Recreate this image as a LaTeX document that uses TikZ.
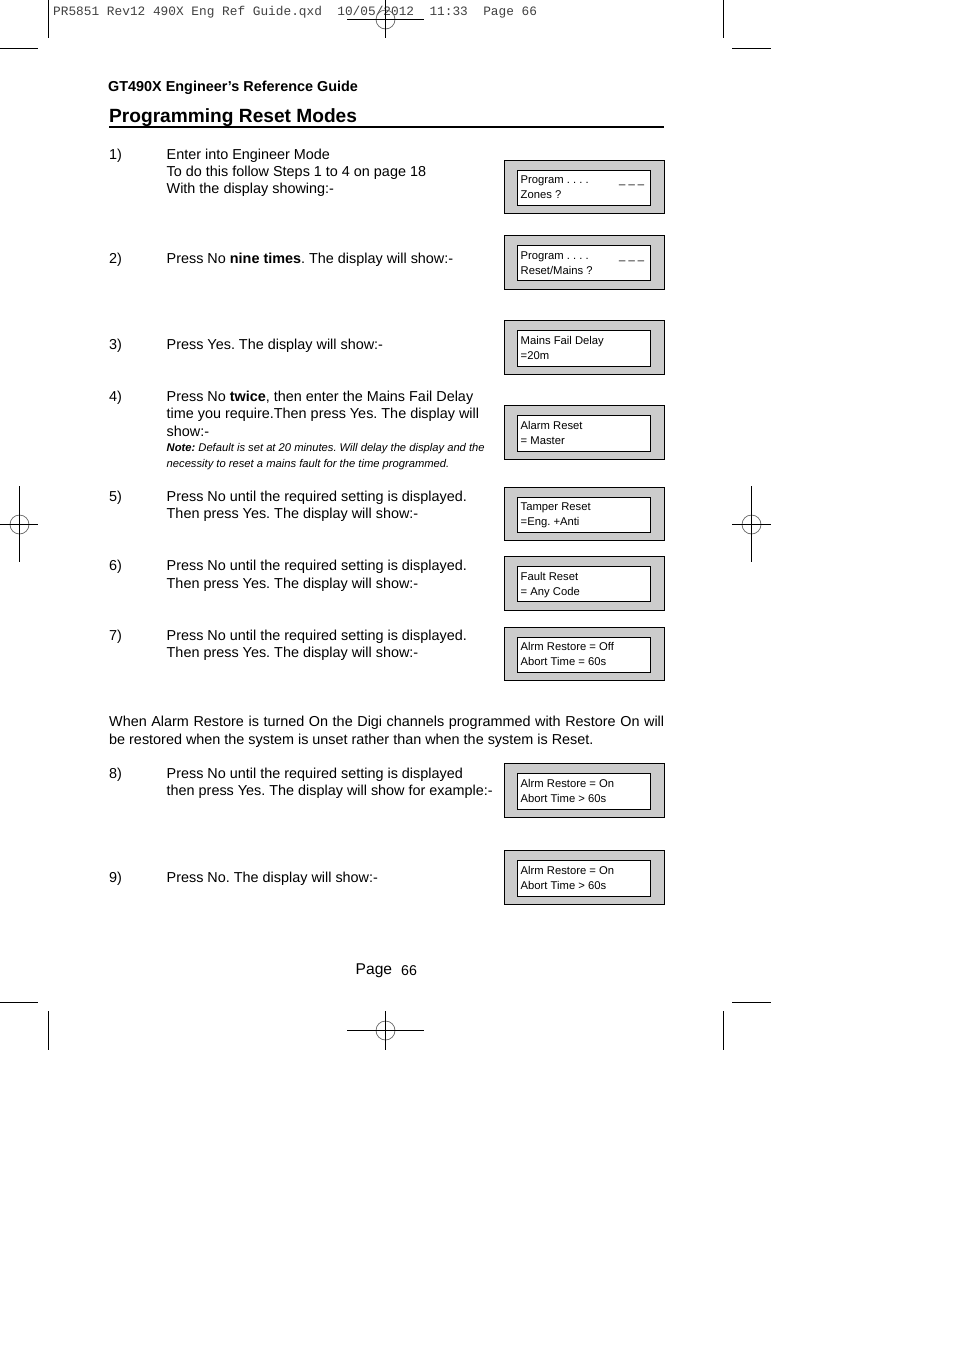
\documentclass[tikz,border=0pt]{standalone}
\usepackage{fontspec}
\setmainfont{Liberation Sans}
\setmonofont{Liberation Mono}
\frenchspacing

\tikzset{
  txt/.style={anchor=base west, inner sep=0pt, font=\fontsize{14.4}{17}\selectfont},
  note/.style={anchor=base west, inner sep=0pt, font=\fontsize{11.2}{13}\selectfont\itshape},
  lcdtxt/.style={anchor=base west, inner sep=0pt, font=\fontsize{11.25}{13}\selectfont},
  lcdframe/.style={draw=black, fill=black!20, line width=1pt, minimum width=160pt, minimum height=54pt, inner sep=0pt},
  lcdface/.style={draw=black, fill=white, line width=1pt, minimum width=133pt, minimum height=36pt, inner sep=0pt},
  trim/.style={line width=1pt},
  ring/.style={draw=black!60, line width=0.7pt}
}

\begin{document}
\begin{tikzpicture}[x=1pt, y=-1pt]
\useasboundingbox (0,0) rectangle (954,1350);

% slug line
\node (slug) at (53,15) [anchor=base west, inner sep=0pt, font=\fontsize{12.8}{15}\selectfont\ttfamily, text=black!75] {PR5851 Rev12 490X Eng Ref Guide.qxd\ \ 10/05/2012\ \ 11:33\ \ Page 66};

% crop marks
\draw [trim] (48.5,0) -- (48.5,38);
\draw [trim] (0,48.5) -- (38,48.5);
\draw [trim] (723.5,0) -- (723.5,38);
\draw [trim] (732,48.5) -- (771,48.5);
\draw [trim] (0,1002.5) -- (38,1002.5);
\draw [trim] (48.5,1011) -- (48.5,1050);
\draw [trim] (723.5,1011) -- (723.5,1050);
\draw [trim] (732,1002.5) -- (771,1002.5);

% registration marks
\draw [ring] (385.5,19.5) circle (9.5);
\draw [trim] (385.5,0) -- (385.5,38);
\draw [trim] (347,19.5) -- (424,19.5);
\draw [ring] (19.5,524.5) circle (9.5);
\draw [trim] (19.5,486) -- (19.5,562);
\draw [trim] (0,524.5) -- (38,524.5);
\draw [ring] (751.5,524.5) circle (9.5);
\draw [trim] (751.5,486) -- (751.5,562);
\draw [trim] (732,524.5) -- (771,524.5);
\draw [ring] (385.5,1030.5) circle (9.5);
\draw [trim] (385.5,1011) -- (385.5,1050);
\draw [trim] (347,1030.5) -- (424,1030.5);

% headings
\node (guide) at (108,91) [txt] {\textbf{GT490X Engineer’s Reference Guide}};
\node (title) at (109,122) [anchor=base west, inner sep=0pt, font=\fontsize{19.14}{23}\selectfont\bfseries] {Programming Reset Modes};
\draw [line width=2pt] (109,127) -- (664,127);

% steps
\node (n1) at (109,159) [txt] {1)};
\node (s1a) at (166.5,159) [txt] {Enter into Engineer Mode};
\node (s1b) at (166.5,176) [txt] {To do this follow Steps 1 to 4 on page 18};
\node (s1c) at (166.5,193) [txt] {With the display showing:-};

\node (n2) at (109,263) [txt] {2)};
\node (s2a) at (166.5,263) [txt] {Press No \textbf{nine times}. The display will show:-};

\node (n3) at (109,349) [txt] {3)};
\node (s3a) at (166.5,349) [txt] {Press Yes. The display will show:-};

\node (n4) at (109,401) [txt] {4)};
\node (s4a) at (166.5,401) [txt] {Press No \textbf{twice}, then enter the Mains Fail Delay};
\node (s4b) at (166.5,418) [txt] {time you require.Then press Yes. The display will};
\node (s4c) at (166.5,436) [txt] {show:-};
\node (s4d) at (166.5,451) [note] {\textbf{Note:} Default is set at 20 minutes. Will delay the display and the};
\node (s4e) at (166.5,467) [note] {necessity to reset a mains fault for the time programmed.};

\node (n5) at (109,501) [txt] {5)};
\node (s5a) at (166.5,501) [txt] {Press No until the required setting is displayed.};
\node (s5b) at (166.5,518) [txt] {Then press Yes. The display will show:-};

\node (n6) at (109,570) [txt] {6)};
\node (s6a) at (166.5,570) [txt] {Press No until the required setting is displayed.};
\node (s6b) at (166.5,588) [txt] {Then press Yes. The display will show:-};

\node (n7) at (109,640) [txt] {7)};
\node (s7a) at (166.5,640) [txt] {Press No until the required setting is displayed.};
\node (s7b) at (166.5,657) [txt] {Then press Yes. The display will show:-};

\node (para1) at (109,726) [txt] {\makebox[555pt][s]{When Alarm Restore is turned On the Digi channels programmed with Restore On will}};
\node (para2) at (109,744) [txt] {be restored when the system is unset rather than when the system is Reset.};

\node (n8) at (109,778) [txt] {8)};
\node (s8a) at (166.5,778) [txt] {Press No until the required setting is displayed};
\node (s8b) at (166.5,795) [txt] {then press Yes. The display will show for example:-};

\node (n9) at (109,882) [txt] {9)};
\node (s9a) at (166.5,882) [txt] {Press No. The display will show:-};

\node (page) at (355.5,974) [txt, font=\fontsize{15.6}{18}\selectfont] {Page};
\node (pageno) at (401,975) [anchor=base west, inner sep=0pt, font=\fontsize{14.2}{17}\selectfont] {66};

% displays
\node (f1) at (584.5,187) [lcdframe, minimum height=53pt] {};
\node (d1) at (584,188) [lcdface, minimum height=35pt] {};
\node (d1a) at (520.5,183) [lcdtxt] {Program . . . .};
\node (d1b) at (520.5,198) [lcdtxt] {Zones ?};
\node (d1c) at (619,183) [lcdtxt] {\_ \_ \_};

\node (f2) at (584.5,262.5) [lcdframe] {};
\node (d2) at (584,263) [lcdface, minimum height=35pt] {};
\node (d2a) at (520.5,259) [lcdtxt] {Program . . . .};
\node (d2b) at (520.5,274) [lcdtxt] {Reset/Mains ?};
\node (d2c) at (619,259) [lcdtxt] {\_ \_ \_};

\node (f3) at (584.5,347.5) [lcdframe] {};
\node (d3) at (584,348.5) [lcdface] {};
\node (d3a) at (520.5,344) [lcdtxt] {Mains Fail Delay};
\node (d3b) at (520.5,359) [lcdtxt] {=20m};

\node (f4) at (584.5,432.5) [lcdframe] {};
\node (d4) at (584,433.5) [lcdface] {};
\node (d4a) at (520.5,429) [lcdtxt] {Alarm Reset};
\node (d4b) at (520.5,444) [lcdtxt] {= Master};

\node (f5) at (584.5,514) [lcdframe, minimum height=53pt] {};
\node (d5) at (584,515) [lcdface, minimum height=35pt] {};
\node (d5a) at (520.5,510) [lcdtxt] {Tamper Reset};
\node (d5b) at (520.5,525) [lcdtxt] {=Eng. +Anti};

\node (f6) at (584.5,583.5) [lcdframe] {};
\node (d6) at (584,584) [lcdface, minimum height=35pt] {};
\node (d6a) at (520.5,580) [lcdtxt] {Fault Reset};
\node (d6b) at (520.5,595) [lcdtxt] {= Any Code};

\node (f7) at (584.5,654) [lcdframe, minimum height=53pt] {};
\node (d7) at (584,655) [lcdface, minimum height=35pt] {};
\node (d7a) at (520.5,650) [lcdtxt] {Alrm Restore = Off};
\node (d7b) at (520.5,665) [lcdtxt] {Abort Time = 60s};

\node (f8) at (584.5,790.5) [lcdframe] {};
\node (d8) at (584,791.5) [lcdface] {};
\node (d8a) at (520.5,787) [lcdtxt] {Alrm Restore = On};
\node (d8b) at (520.5,802) [lcdtxt] {Abort Time > 60s};

\node (f9) at (584.5,877.5) [lcdframe] {};
\node (d9) at (584,878.5) [lcdface] {};
\node (d9a) at (520.5,874) [lcdtxt] {Alrm Restore = On};
\node (d9b) at (520.5,889) [lcdtxt] {Abort Time > 60s};

\end{tikzpicture}
\end{document}
